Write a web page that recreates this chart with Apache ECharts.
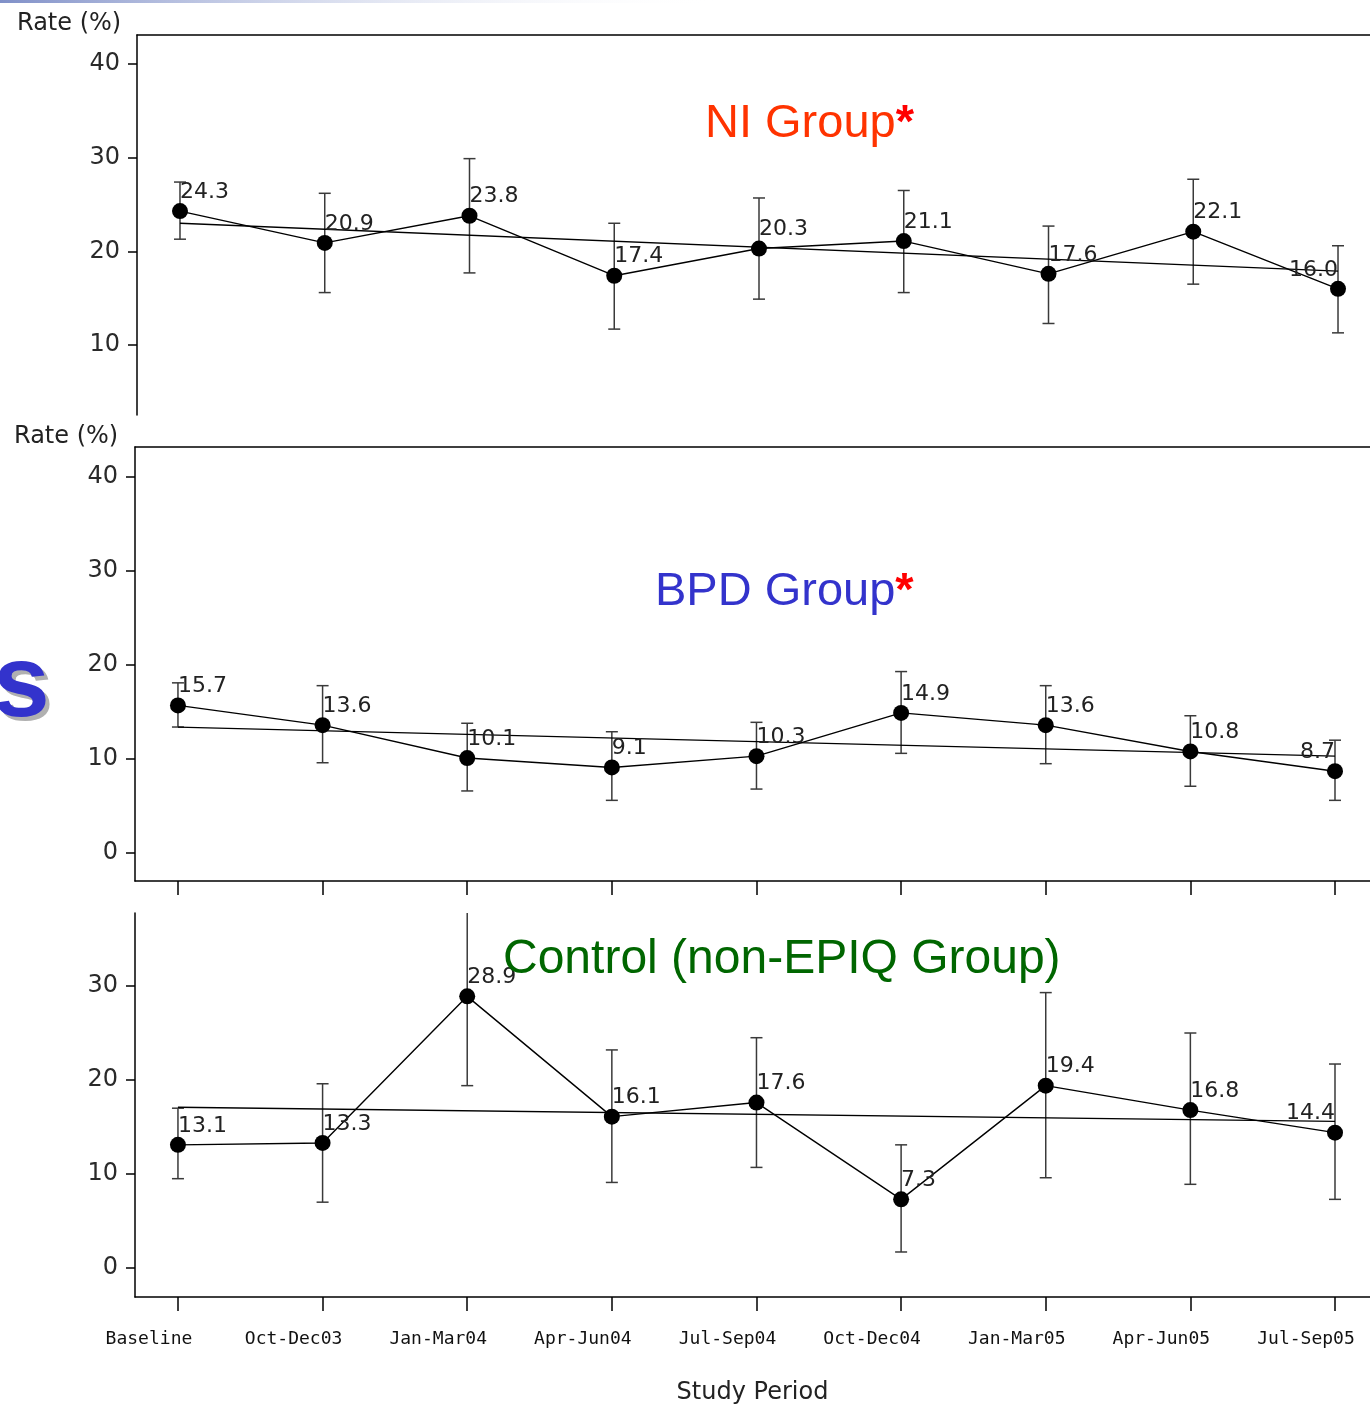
<!DOCTYPE html>
<html>
<head>
<meta charset="utf-8">
<script src="https://cdn.jsdelivr.net/npm/echarts@6/dist/echarts.min.js"></script>
<style>html,body{margin:0;padding:0;background:#fff}#c{width:1370px;height:1406px}</style>
</head>
<body>
<div id="c"></div>
<script>
// ---- data ----
const periods = ['Baseline','Oct-Dec03','Jan-Mar04','Apr-Jun04','Jul-Sep04','Oct-Dec04','Jan-Mar05','Apr-Jun05','Jul-Sep05'];

const niRate  = [24.3, 20.9, 23.8, 17.4, 20.3, 21.1, 17.6, 22.1, 16.0];
const niLow   = [21.3, 15.6, 17.7, 11.7, 14.9, 15.6, 12.3, 16.5, 11.3];
const niHigh  = [27.4, 26.2, 29.9, 23.0, 25.7, 26.5, 22.7, 27.7, 20.6];
const niTrend = [23.0, 17.9];

const bpdRate  = [15.7, 13.6, 10.1, 9.1, 10.3, 14.9, 13.6, 10.8, 8.7];
const bpdLow   = [13.4, 9.6, 6.6, 5.6, 6.8, 10.6, 9.5, 7.1, 5.6];
const bpdHigh  = [18.1, 17.8, 13.8, 12.9, 13.9, 19.3, 17.8, 14.6, 12.0];
const bpdTrend = [13.4, 10.3];

const ctlRate  = [13.1, 13.3, 28.9, 16.1, 17.6, 7.3, 19.4, 16.8, 14.4];
const ctlLow   = [9.5, 7.0, 19.4, 9.1, 10.7, 1.7, 9.6, 8.9, 7.3];
const ctlHigh  = [17.0, 19.6, 40.0, 23.2, 24.5, 13.1, 29.3, 25.0, 21.7];
const ctlTrend = [17.1, 15.6];

const yTicksTop = [10, 20, 30, 40];
const yTicksMid = [0, 10, 20, 30, 40];
const yTicksBot = [0, 10, 20, 30];

// ---- helpers ----
const idx = periods.map((_, i) => i);
const tickFont = {fontFamily: 'DejaVu Sans', fontSize: 24, color: '#2a2a2a'};

function errRender(params, api) {
  const lo = api.coord([api.value(0), api.value(1)]);
  const hi = api.coord([api.value(0), api.value(2)]);
  const w = 6;
  const st = {stroke: '#3a3a3a', lineWidth: 1.5};
  return {type: 'group', children: [
    {type: 'line', shape: {x1: hi[0], y1: hi[1], x2: lo[0], y2: lo[1]}, style: st},
    {type: 'line', shape: {x1: hi[0] - w, y1: hi[1], x2: hi[0] + w, y2: hi[1]}, style: st},
    {type: 'line', shape: {x1: lo[0] - w, y1: lo[1], x2: lo[0] + w, y2: lo[1]}, style: st}
  ]};
}

function panelSeries(k, xi, rate, low, high, trend) {
  const last = rate.length - 1;
  return [
    {
      type: 'custom', xAxisIndex: xi, yAxisIndex: k, renderItem: errRender, clip: true,
      encode: {x: 0, y: [1, 2]}, z: 2, silent: true,
      data: idx.map(i => [i, low[i], high[i]])
    },
    {
      type: 'line', xAxisIndex: xi, yAxisIndex: k, z: 3,
      data: [[0, trend[0]], [last, trend[1]]],
      showSymbol: false, symbol: 'none', lineStyle: {color: '#000', width: 1.3}, silent: true
    },
    {
      type: 'line', xAxisIndex: xi, yAxisIndex: k, z: 4,
      data: idx.map(i => ({value: [i, rate[i]], label: i === last ? {align: 'right'} : undefined})),
      symbol: 'circle', symbolSize: 16, showAllSymbol: true,
      itemStyle: {color: '#000'}, lineStyle: {color: '#000', width: 1.4},
      label: {
        show: true, position: 'top', align: 'left', distance: 0,
        fontFamily: 'DejaVu Sans', fontSize: 22, color: '#222',
        formatter: p => p.value[1].toFixed(1)
      }
    }
  ];
}

const axLine = {show: true, onZero: false, lineStyle: {color: '#000', width: 1.5}};
const hidden = {show: false};
const titleFont = {fontFamily: 'Liberation Sans', fontSize: 47, fontWeight: 'normal'};

const option = {
  animation: false,
  backgroundColor: '#fff',
  title: [
    {text: 'Rate (%)', left: 12, top: 7, textStyle: {fontFamily: 'DejaVu Sans', fontSize: 24, fontWeight: 'normal', color: '#222'}},
    {text: 'Rate (%)', left: 9, top: 420, textStyle: {fontFamily: 'DejaVu Sans', fontSize: 24, fontWeight: 'normal', color: '#222'}},
    {text: '{a|NI Group}{s|*}', left: 700, top: 96, textStyle: {fontWeight: 'normal', rich: {
      a: Object.assign({color: '#ff3300'}, titleFont),
      s: Object.assign({}, titleFont, {color: '#ff0000', fontWeight: 'bold'})}}},
    {text: '{a|BPD Group}{s|*}', left: 650, top: 564, textStyle: {fontWeight: 'normal', rich: {
      a: Object.assign({color: '#3333cc'}, titleFont),
      s: Object.assign({}, titleFont, {color: '#ff0000', fontWeight: 'bold'})}}},
    {text: 'Control (non-EPIQ Group)', left: 498, top: 931, textStyle: Object.assign({}, titleFont, {color: '#006600', fontSize: 48})},
    {text: 's', left: -8, top: 636, textStyle: {fontFamily: 'Liberation Sans', fontSize: 102, fontWeight: 'bold', color: '#b0b0b0'}},
    {text: 's', left: -12, top: 632, textStyle: {fontFamily: 'Liberation Sans', fontSize: 102, fontWeight: 'bold', color: '#3333cc'}}
  ],
  graphic: [
    {type: 'rect', shape: {x: 0, y: 0, width: 720, height: 3}, silent: true,
     style: {fill: new echarts.graphic.LinearGradient(0, 0, 1, 0, [{offset: 0, color: '#8090c8'}, {offset: 1, color: 'rgba(255,255,255,0)'}])}}
  ],
  grid: [
    {left: 137, top: 35, right: 0, height: 380},
    {left: 135, top: 447, right: 0, height: 434},
    {left: 135, top: 913, right: 0, height: 384}
  ],
  xAxis: [
    {gridIndex: 0, type: 'value', position: 'top', min: -0.297, max: 8.221,
     axisLine: axLine, axisTick: hidden, axisLabel: hidden, splitLine: hidden},
    {gridIndex: 1, type: 'value', position: 'bottom', min: -0.297, max: 8.242,
     axisLine: axLine, splitLine: hidden, axisLabel: hidden,
     axisTick: {show: true, customValues: idx, length: 14, lineStyle: {color: '#000', width: 1.5}}},
    {gridIndex: 1, type: 'value', position: 'top', min: -0.297, max: 8.242,
     axisLine: axLine, axisTick: hidden, axisLabel: hidden, splitLine: hidden},
    {gridIndex: 2, type: 'value', position: 'bottom', min: -0.297, max: 8.242,
     axisLine: axLine, splitLine: hidden,
     axisTick: {show: true, customValues: idx, length: 14, lineStyle: {color: '#000', width: 1.5}},
     axisLabel: {show: true, customValues: idx, margin: 33, padding: [0, 58, 0, 0],
       fontFamily: 'DejaVu Sans Mono', fontSize: 18, color: '#111',
       formatter: v => periods[Math.round(v)]},
     name: 'Study Period', nameLocation: 'middle', nameGap: 84,
     nameTextStyle: {fontFamily: 'DejaVu Sans', fontSize: 24, color: '#222'}}
  ],
  yAxis: [
    {gridIndex: 0, type: 'value', min: 2.53, max: 43.1, axisLine: axLine, splitLine: hidden,
     axisTick: {show: true, customValues: yTicksTop, length: 9, lineStyle: {color: '#000', width: 1.5}},
     axisLabel: Object.assign({show: true, customValues: yTicksTop, margin: 17}, tickFont)},
    {gridIndex: 1, type: 'value', min: -2.98, max: 43.19, axisLine: axLine, splitLine: hidden,
     axisTick: {show: true, customValues: yTicksMid, length: 9, lineStyle: {color: '#000', width: 1.5}},
     axisLabel: Object.assign({show: true, customValues: yTicksMid, margin: 17}, tickFont)},
    {gridIndex: 2, type: 'value', min: -3.09, max: 37.77, axisLine: axLine, splitLine: hidden,
     axisTick: {show: true, customValues: yTicksBot, length: 9, lineStyle: {color: '#000', width: 1.5}},
     axisLabel: Object.assign({show: true, customValues: yTicksBot, margin: 17}, tickFont)}
  ],
  series: [].concat(
    panelSeries(0, 0, niRate, niLow, niHigh, niTrend),
    panelSeries(1, 1, bpdRate, bpdLow, bpdHigh, bpdTrend),
    panelSeries(2, 3, ctlRate, ctlLow, ctlHigh, ctlTrend)
  )
};

const chart = echarts.init(document.getElementById('c'), null, {renderer: 'canvas'});
chart.setOption(option);
</script>
</body>
</html>
